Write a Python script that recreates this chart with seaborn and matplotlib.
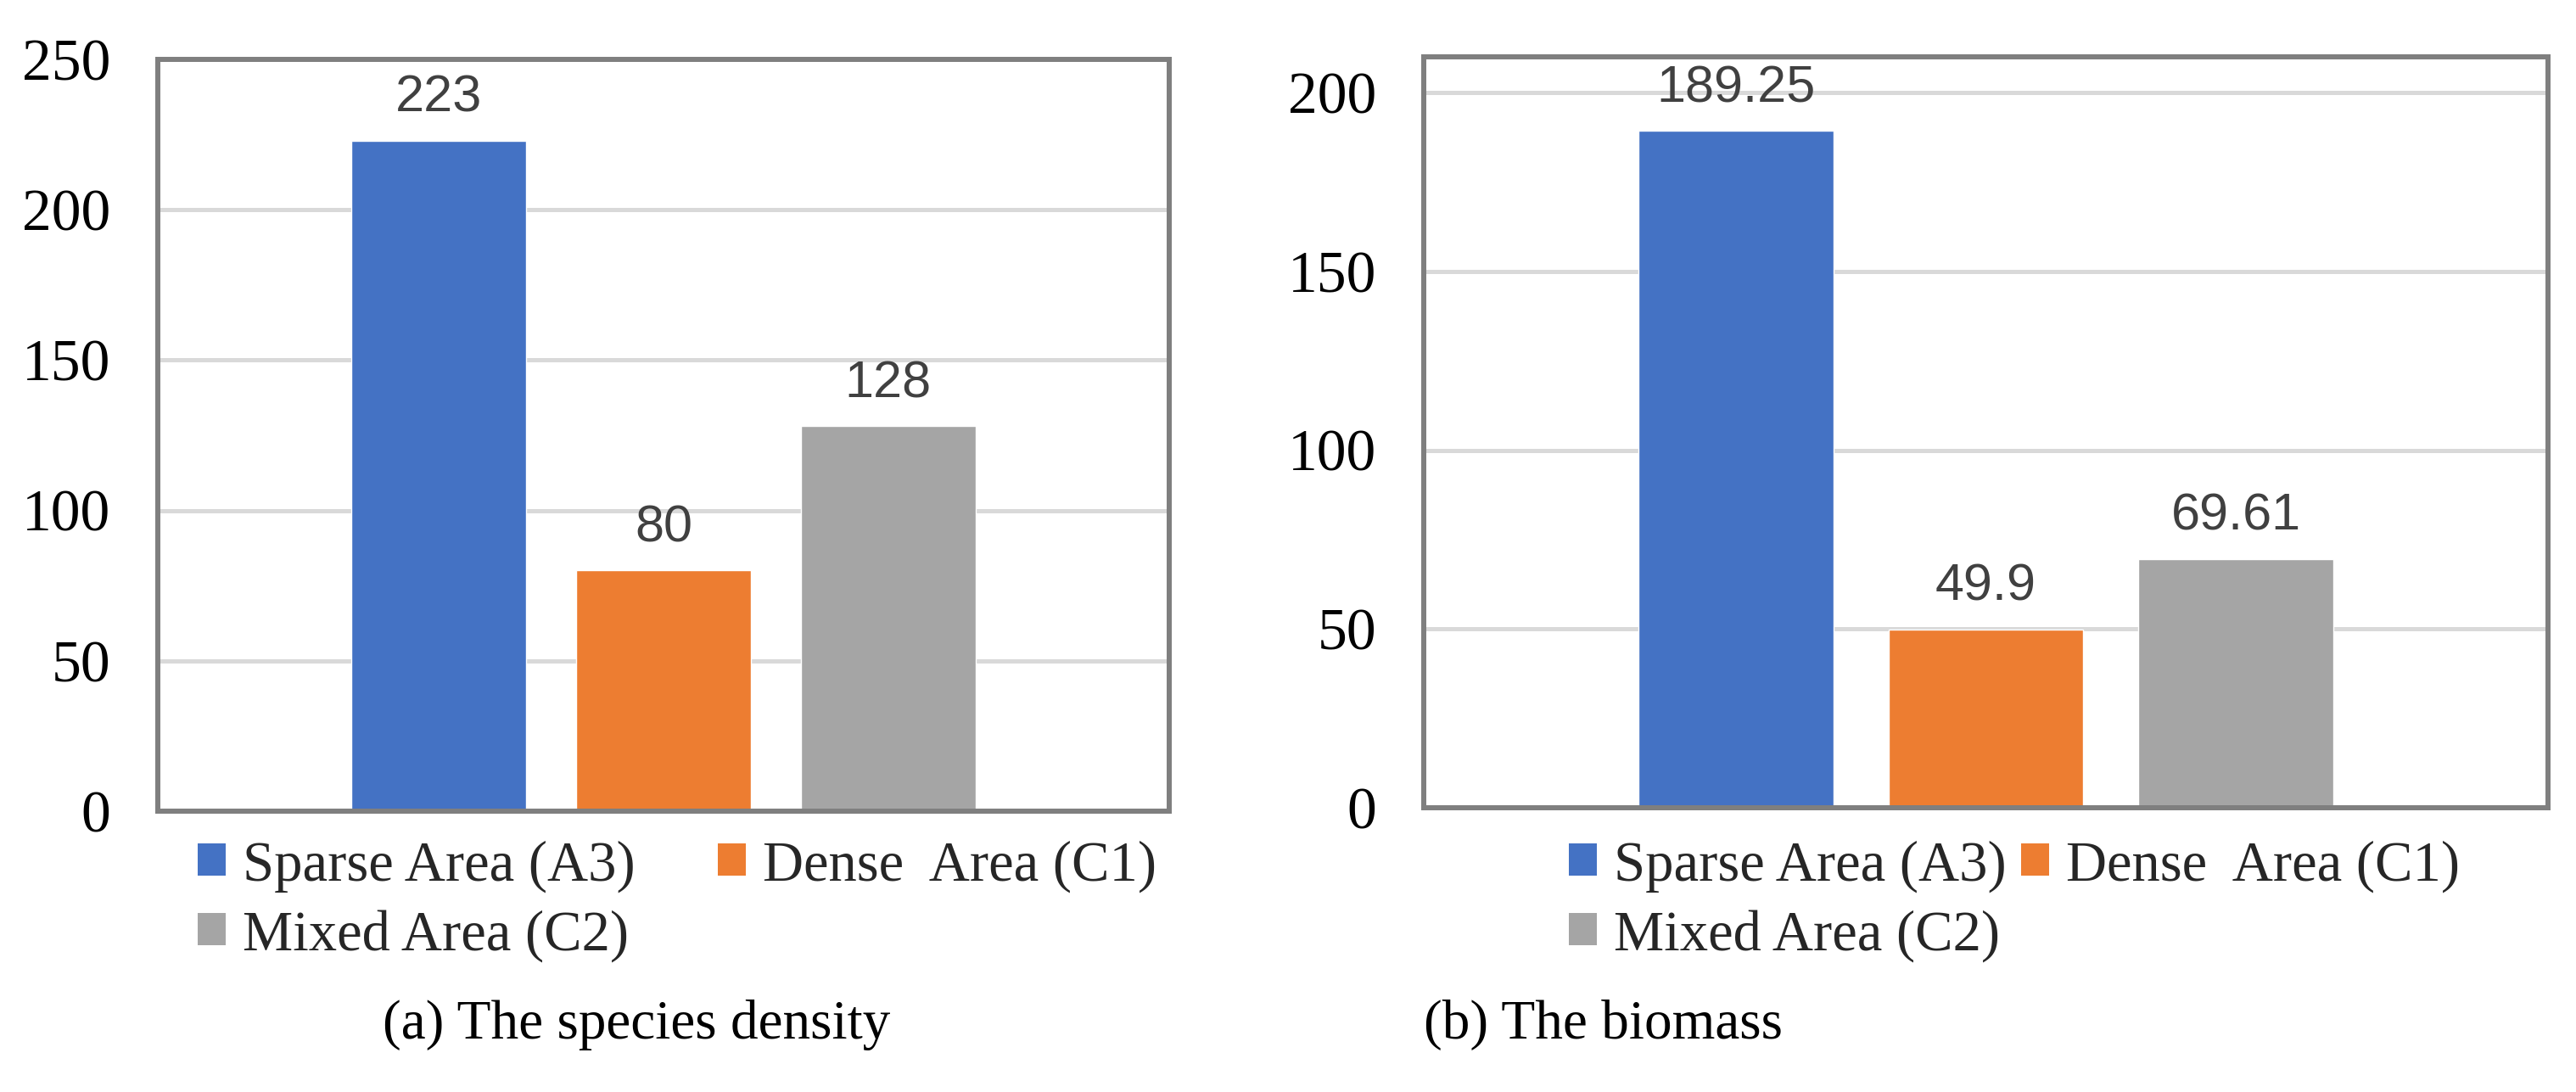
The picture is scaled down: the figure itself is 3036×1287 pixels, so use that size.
import matplotlib
matplotlib.use('Agg')
import matplotlib.pyplot as plt
import matplotlib.patches as mpatches
import pandas as pd
import seaborn as sns

# --- Data ---
AREAS = ['Sparse Area (A3)', 'Dense  Area (C1)', 'Mixed Area (C2)']
DENSITY = [223, 80, 128]
BIOMASS = [189.25, 49.9, 69.61]
COLORS = ['#4472C4', '#ED7D31', '#A5A5A5']
CAPTIONS = ['(a) The species density', '(b) The biomass']

sns.set_theme(style='white')
plt.rcParams['font.family'] = ['Liberation Serif', 'DejaVu Serif']
LABEL_FONT = ['Liberation Sans Narrow', 'Liberation Sans', 'DejaVu Sans']

W, H = 3036, 1287
fig = plt.figure(figsize=(W / 100, H / 100), dpi=100)
ax1 = fig.add_axes([186 / W, 1 - 956 / H, (1378 - 186) / W, (956 - 70) / H])
ax2 = fig.add_axes([1678 / W, 1 - 952 / H, (3003 - 1678) / W, (952 - 67) / H])


def draw_panel(ax, values, ymax, ticks):
    df = pd.DataFrame({'area': AREAS, 'value': values})
    sns.barplot(data=df, x='area', y='value', hue='area', palette=COLORS,
                saturation=1, width=0.78, ax=ax, legend=False)
    ax.set_xlim(-1.25, 3.25)
    ax.set_ylim(0, ymax)
    ax.set_yticks(ticks)
    ax.set_xticks([])
    ax.set_xlabel('')
    ax.set_ylabel('')
    ax.tick_params(axis='y', length=0, pad=40, labelsize=50, labelcolor='black')
    ax.grid(axis='y', color='#d9d9d9', linewidth=3.6)
    ax.set_axisbelow(True)
    for s in ax.spines.values():
        s.set_visible(True)
        s.set_color('#7f7f7f')
        s.set_linewidth(4.3)
    for c in ax.containers:
        ax.bar_label(c, fmt='{:g}', padding=15, fontsize=44, color='#404040',
                     family=LABEL_FONT)


draw_panel(ax1, DENSITY, 250, [0, 50, 100, 150, 200, 250])
draw_panel(ax2, BIOMASS, 210, [0, 50, 100, 150, 200])

# legends: two columns, Sparse + Dense on the first row, Mixed below
handles = [mpatches.Patch(facecolor=c, edgecolor='none') for c in COLORS]
order = [0, 2, 1]
for x0, colsp in [(233, 1.45), (1849, 0.25)]:
    fig.legend([handles[i] for i in order], [AREAS[i] for i in order],
               ncol=2, loc='upper left', bbox_to_anchor=(x0 / W, 1 - 990 / H),
               frameon=False, fontsize=48, handlelength=0.5, handleheight=0.5,
               handletextpad=0.3, columnspacing=colsp, labelspacing=0.3,
               borderpad=0, borderaxespad=0)

for xc, cap in zip([750, 1890], CAPTIONS):
    fig.text(xc / W, 1 - 1224 / H, cap, ha='center', va='baseline',
             fontsize=47, color='black')

fig.savefig('out.png', dpi=100)
